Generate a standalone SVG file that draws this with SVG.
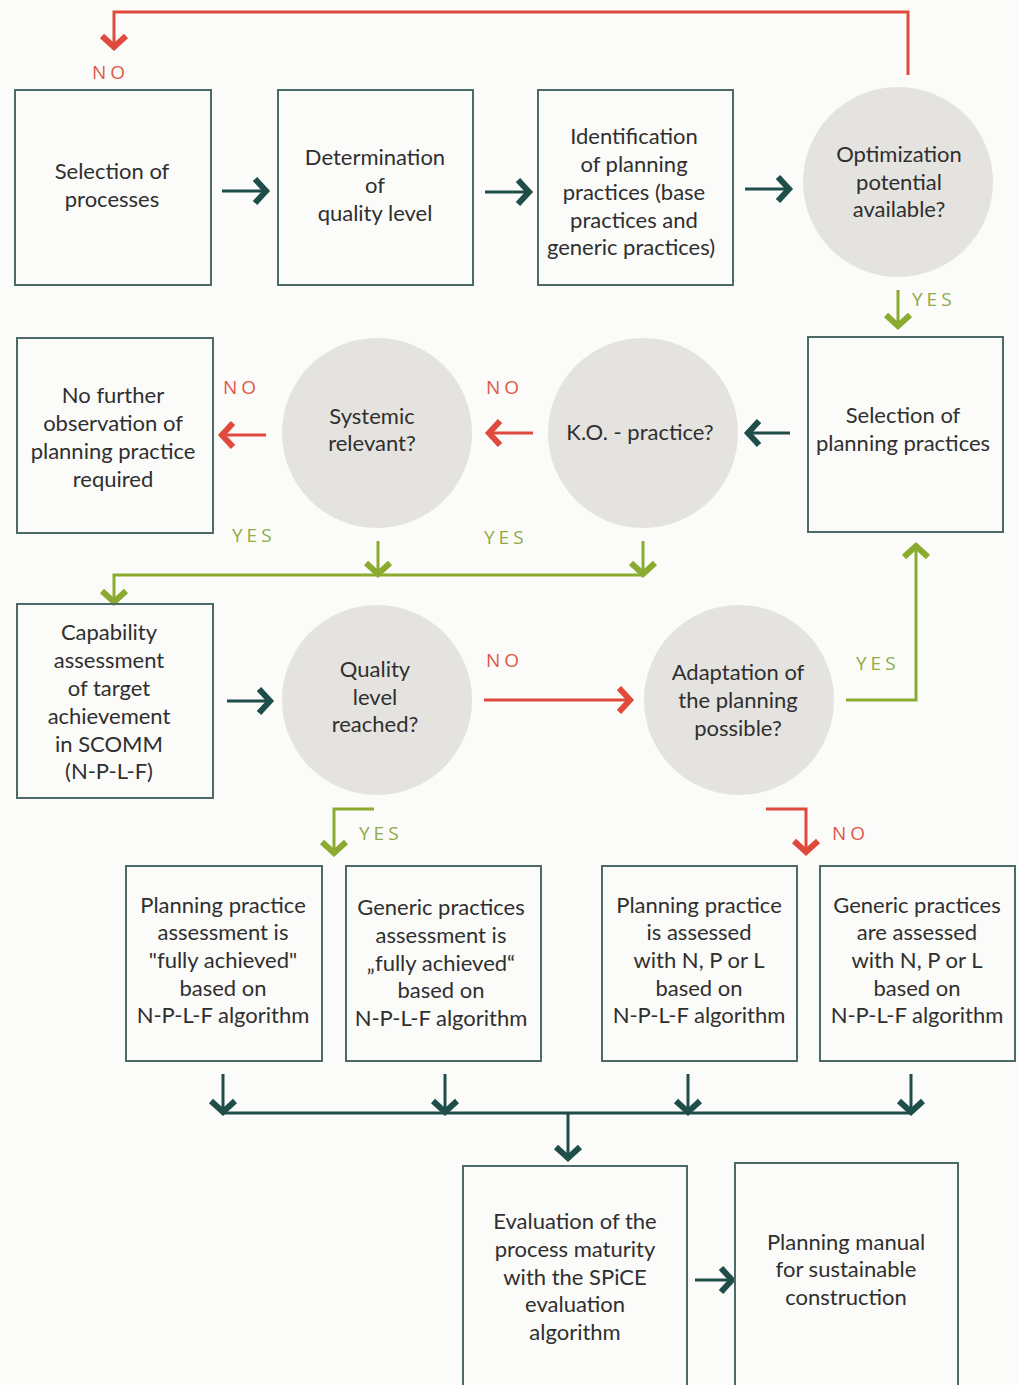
<svg xmlns="http://www.w3.org/2000/svg" width="1017" height="1385" viewBox="0 0 1017 1385">
<style>
.bg{fill:#fbfbf9}
.box{fill:none;stroke:#4d6a6b;stroke-width:2}
.dec{fill:#e5e3e0}
.t{font-family:Lato,"Open Sans","Liberation Sans",sans-serif;font-size:22px;fill:#2f2f2f;text-anchor:middle}
.lbl{font-family:"Open Sans","Liberation Sans",sans-serif;font-size:19px;letter-spacing:4px}
.no{fill:#e0574a}
.yes{fill:#8fab45}
.cd{fill:none;stroke:#1e4d4a;stroke-width:3}
.cr{fill:none;stroke:#e04a3c;stroke-width:3}
.cg{fill:none;stroke:#8aab30;stroke-width:3}
</style>
<defs>
<marker id="aD" markerUnits="userSpaceOnUse" markerWidth="30" markerHeight="30" refX="15" refY="15" orient="auto" overflow="visible">
<path d="M4,3 L15,15 L4,27" fill="none" stroke="#1e4d4a" stroke-width="6"/>
</marker>
<marker id="aR" markerUnits="userSpaceOnUse" markerWidth="30" markerHeight="30" refX="15" refY="15" orient="auto" overflow="visible">
<path d="M4,3 L15,15 L4,27" fill="none" stroke="#e04a3c" stroke-width="6"/>
</marker>
<marker id="aG" markerUnits="userSpaceOnUse" markerWidth="30" markerHeight="30" refX="15" refY="15" orient="auto" overflow="visible">
<path d="M4,3 L15,15 L4,27" fill="none" stroke="#8aab30" stroke-width="6"/>
</marker>
</defs>
<rect class="bg" x="0" y="0" width="1017" height="1385"/>

<g id="connectors">
<path class="cr" d="M908,75 V12 H114 V47" marker-end="url(#aR)"/>
<path class="cd" d="M222,191 H266" marker-end="url(#aD)"/>
<path class="cd" d="M485,192 H529" marker-end="url(#aD)"/>
<path class="cd" d="M745,189 H789" marker-end="url(#aD)"/>
<path class="cg" d="M898,290 V326" marker-end="url(#aG)"/>
<path class="cd" d="M790,433 H748" marker-end="url(#aD)"/>
<path class="cr" d="M533,433 H489" marker-end="url(#aR)"/>
<path class="cr" d="M266,435 H222" marker-end="url(#aR)"/>
<path class="cg" d="M378,541 V574"  marker-end="url(#aG)"/>
<path class="cg" d="M643,541 V574" marker-end="url(#aG)"/>
<path class="cg" d="M643,575 H114 V602" marker-end="url(#aG)"/>
<path class="cd" d="M227,701 H270" marker-end="url(#aD)"/>
<path class="cr" d="M484,700 H630" marker-end="url(#aR)"/>
<path class="cg" d="M846,700 H916 V546" marker-end="url(#aG)"/>
<path class="cr" d="M766,809 H806 V852" marker-end="url(#aR)"/>
<path class="cg" d="M374,809 H334 V853" marker-end="url(#aG)"/>
<path class="cd" d="M223,1074 V1112" marker-end="url(#aD)"/>
<path class="cd" d="M445,1074 V1112" marker-end="url(#aD)"/>
<path class="cd" d="M688,1074 V1112" marker-end="url(#aD)"/>
<path class="cd" d="M911,1074 V1112" marker-end="url(#aD)"/>
<path class="cd" d="M223,1113 H911"/>
<path class="cd" d="M568,1113 V1158" marker-end="url(#aD)"/>
<path class="cd" d="M695,1280 H732" marker-end="url(#aD)"/>
<text class="lbl no" x="92" y="79">NO</text>
<text class="lbl yes" x="912" y="306">YES</text>
<text class="lbl no" x="486" y="394">NO</text>
<text class="lbl no" x="223" y="394">NO</text>
<text class="lbl yes" x="232" y="542">YES</text>
<text class="lbl yes" x="484" y="544">YES</text>
<text class="lbl no" x="486" y="667">NO</text>
<text class="lbl yes" x="856" y="670">YES</text>
<text class="lbl yes" x="359" y="840">YES</text>
<text class="lbl no" x="832" y="840">NO</text>
</g>

<g id="n1"><rect class="box" x="15" y="90" width="196" height="195"/>
<text class="t" x="112"><tspan x="112" y="179">Selection of</tspan><tspan x="112" y="207">processes</tspan></text></g>
<g id="n2"><rect class="box" x="278" y="90" width="195" height="195"/>
<text class="t"><tspan x="375" y="165">Determination</tspan><tspan x="375" y="193">of</tspan><tspan x="375" y="221">quality level</tspan></text></g>
<g id="n3"><rect class="box" x="538" y="90" width="195" height="195"/>
<text class="t"><tspan x="634" y="144">Identification</tspan><tspan x="634" y="172">of planning</tspan><tspan x="634" y="200">practices (base</tspan><tspan x="634" y="228">practices and</tspan><tspan x="631" y="255">generic practices)</tspan></text></g>
<g id="n4"><circle class="dec" cx="898" cy="182" r="95"/>
<text class="t"><tspan x="899" y="162">Optimization</tspan><tspan x="899" y="190">potential</tspan><tspan x="899" y="217">available?</tspan></text></g>

<g id="n5"><rect class="box" x="808" y="337" width="195" height="195"/>
<text class="t"><tspan x="903" y="423">Selection of</tspan><tspan x="903" y="451">planning practices</tspan></text></g>
<g id="n6"><circle class="dec" cx="643" cy="433" r="95"/>
<text class="t"><tspan x="640" y="440">K.O. - practice?</tspan></text></g>
<g id="n7"><circle class="dec" cx="377" cy="433" r="95"/>
<text class="t"><tspan x="372" y="424">Systemic</tspan><tspan x="372" y="451">relevant?</tspan></text></g>
<g id="n8"><rect class="box" x="17" y="338" width="196" height="195"/>
<text class="t"><tspan x="113" y="403">No further</tspan><tspan x="113" y="431">observation of</tspan><tspan x="113" y="459">planning practice</tspan><tspan x="113" y="487">required</tspan></text></g>

<g id="n9"><rect class="box" x="17" y="604" width="196" height="194"/>
<text class="t"><tspan x="109" y="640">Capability</tspan><tspan x="109" y="668">assessment</tspan><tspan x="109" y="696">of target</tspan><tspan x="109" y="724">achievement</tspan><tspan x="109" y="752">in SCOMM</tspan><tspan x="109" y="779">(N-P-L-F)</tspan></text></g>
<g id="n10"><circle class="dec" cx="377" cy="700" r="95"/>
<text class="t"><tspan x="375" y="677">Quality</tspan><tspan x="375" y="705">level</tspan><tspan x="375" y="732">reached?</tspan></text></g>
<g id="n11"><circle class="dec" cx="739" cy="700" r="95"/>
<text class="t"><tspan x="738" y="680">Adaptation of</tspan><tspan x="738" y="708">the planning</tspan><tspan x="738" y="736">possible?</tspan></text></g>

<g id="n12"><rect class="box" x="126" y="866" width="196" height="195"/>
<text class="t"><tspan x="223" y="913">Planning practice</tspan><tspan x="223" y="940">assessment is</tspan><tspan x="223" y="968">"fully achieved"</tspan><tspan x="223" y="996">based on</tspan><tspan x="223" y="1023">N-P-L-F algorithm</tspan></text></g>
<g id="n13"><rect class="box" x="346" y="866" width="195" height="195"/>
<text class="t"><tspan x="441" y="915">Generic practices</tspan><tspan x="441" y="943">assessment is</tspan><tspan x="441" y="971">„fully achieved“</tspan><tspan x="441" y="998">based on</tspan><tspan x="441" y="1026">N-P-L-F algorithm</tspan></text></g>
<g id="n14"><rect class="box" x="602" y="866" width="195" height="195"/>
<text class="t"><tspan x="699" y="913">Planning practice</tspan><tspan x="699" y="940">is assessed</tspan><tspan x="699" y="968">with N, P or L</tspan><tspan x="699" y="996">based on</tspan><tspan x="699" y="1023">N-P-L-F algorithm</tspan></text></g>
<g id="n15"><rect class="box" x="820" y="866" width="195" height="195"/>
<text class="t"><tspan x="917" y="913">Generic practices</tspan><tspan x="917" y="940">are assessed</tspan><tspan x="917" y="968">with N, P or L</tspan><tspan x="917" y="996">based on</tspan><tspan x="917" y="1023">N-P-L-F algorithm</tspan></text></g>

<g id="n16"><rect class="box" x="463" y="1166" width="224" height="230"/>
<text class="t"><tspan x="575" y="1229">Evaluation of the</tspan><tspan x="575" y="1257">process maturity</tspan><tspan x="575" y="1285">with the SPiCE</tspan><tspan x="575" y="1312">evaluation</tspan><tspan x="575" y="1340">algorithm</tspan></text></g>
<g id="n17"><rect class="box" x="735" y="1163" width="223" height="233"/>
<text class="t"><tspan x="846" y="1250">Planning manual</tspan><tspan x="846" y="1277">for sustainable</tspan><tspan x="846" y="1305">construction</tspan></text></g>
</svg>
